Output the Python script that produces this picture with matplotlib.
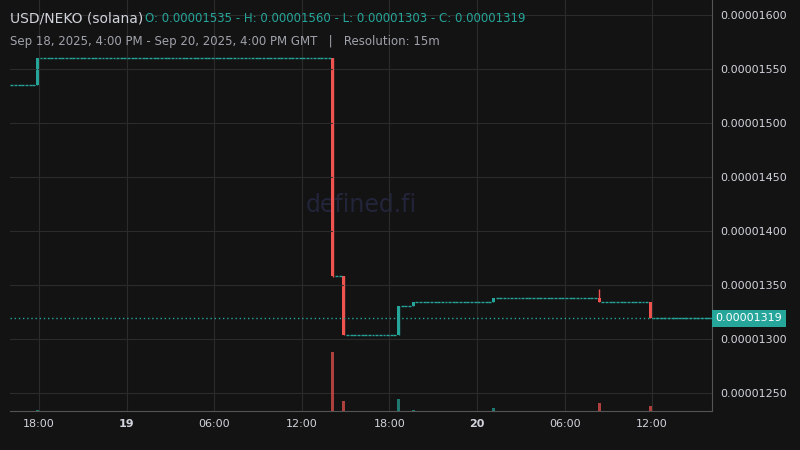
import matplotlib
matplotlib.use("Agg")
import matplotlib.pyplot as plt
from matplotlib.patches import Rectangle

# price in units of 1e-8
start_price = 1535
n_candles = 192  # 15m candles, Sep 18 16:00 -> Sep 20 16:00
# event candles: index -> (open, high, low, close, volume)
events = {
    7:   (1535, 1560, 1535, 1560, 1.0),
    88:  (1560, 1560, 1357, 1358, 59),
    91:  (1358, 1358, 1303, 1303, 10),
    106: (1303, 1330, 1303, 1330, 12),
    110: (1330, 1334, 1330, 1334, 1.5),
    132: (1334, 1338, 1334, 1338, 3),
    161: (1338, 1346, 1334, 1334, 8),
    175: (1334, 1334, 1319, 1319, 5),
}
base_volume = 0.4
last_price = 1319
yticks = [1250, 1300, 1350, 1400, 1450, 1500, 1550, 1600]
xtick_hours = [2, 8, 14, 20, 26, 32, 38, 44]
xtick_labels = ["18:00", "19", "06:00", "12:00", "18:00", "20", "06:00", "12:00"]

UP = "#26a69a"; DN = "#ef5350"; BG = "#131313"
fig = plt.figure(figsize=(8, 4.5), dpi=100, facecolor=BG)
ax = fig.add_axes([10/800, 39/450, 702/800, 411/450], facecolor=BG)
vax = ax.twinx()
vax.set_ylim(0, 411)
vax.axis("off")

price = start_price
for i in range(n_candles):
    x = i * 0.25
    if i in events:
        o, h, l, c, v = events[i]
    else:
        o = h = l = c = price; v = base_volume
    price = c
    col = UP if c >= o else DN
    w = 0.25 * 0.8
    xc = x + 0.125
    if o == c and h == l:
        ax.hlines(c, xc - w/2, xc + w/2, color=col, lw=1)
    else:
        ax.vlines(xc, l, h, color=col, lw=1)
        ax.add_patch(Rectangle((xc - w/2, min(o, c)), w, abs(c - o), color=col, lw=0))
    vax.bar(xc, v, width=w, color=col, alpha=0.7 if v > base_volume else 0.35)

ax.set_xlim(0, 48.1)
ax.set_ylim(1233, 1614)
ax.yaxis.tick_right()
ax.set_yticks(yticks)
ax.set_yticklabels([f"0.0000{v}" for v in yticks], color="#d1d4dc", fontsize=8)
ax.set_xticks(xtick_hours)
ax.set_xticklabels(xtick_labels, color="#d1d4dc", fontsize=8)
for lab, t in zip(ax.get_xticklabels(), xtick_labels):
    if len(t) == 2:
        lab.set_fontweight("bold")
ax.tick_params(length=0, pad=6)
ax.grid(True, color="#2b2b2b", lw=0.8)
for s in ax.spines.values():
    s.set_visible(False)
ax.spines["right"].set_visible(True); ax.spines["right"].set_color("#555555")
ax.spines["bottom"].set_visible(True); ax.spines["bottom"].set_color("#555555")

ax.axhline(last_price, color=UP, ls=(0, (1, 2)), lw=1)
ax.text(1.005, last_price, f"0.0000{last_price}", transform=ax.get_yaxis_transform(),
        color="white", fontsize=8, va="center", ha="left",
        bbox=dict(boxstyle="square,pad=0.3", fc=UP, ec="none"))
ax.text(0.5, 0.5, "defined.fi", transform=ax.transAxes, color="#22243a",
        fontsize=17, ha="center", va="center", zorder=0)

fig.text(10/800, 1 - 19/450, "USD/NEKO (solana)", color="#d1d4dc", fontsize=10, va="center")
fig.text(145/800, 1 - 19/450, "O: 0.00001535 - H: 0.00001560 - L: 0.00001303 - C: 0.00001319",
         color=UP, fontsize=8.5, va="center")
fig.text(10/800, 1 - 41/450, "Sep 18, 2025, 4:00 PM - Sep 20, 2025, 4:00 PM GMT   |   Resolution: 15m",
         color="#a0a3ab", fontsize=8.5, va="center")
fig.savefig("out.png", facecolor=BG)
